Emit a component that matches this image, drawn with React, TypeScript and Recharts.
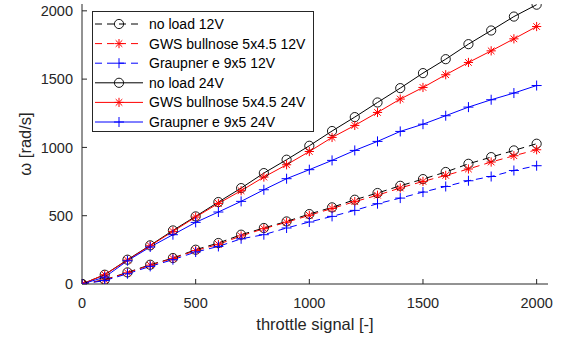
import { LineChart, Line, XAxis, YAxis, Legend } from "recharts";

const throttle = [
  0, 100, 200, 300, 400, 500, 600, 700, 800, 900, 1000, 1100, 1200, 1300,
  1400, 1500, 1600, 1700, 1800, 1900, 2000,
];
const noLoad12 = [
  0, 31, 85, 141, 190, 251, 300, 361, 410, 458, 512, 561, 617, 666, 719, 768,
  820, 880, 929, 978, 1027,
];
const gws12 = [
  0, 30, 82, 138, 187, 245, 290, 352, 405, 452, 503, 553, 603, 650, 703, 751,
  795, 842, 893, 939, 983,
];
const graupner12 = [
  0, 25, 75, 129, 178, 234, 275, 331, 361, 410, 454, 495, 539, 588, 629, 673,
  714, 756, 787, 831, 866,
];
const noLoad24 = [
  0, 68, 178, 283, 392, 495, 600, 702, 812, 910, 1012, 1120, 1222, 1329, 1434,
  1544, 1646, 1756, 1856, 1958, 2045,
];
const gws24 = [
  0, 68, 175, 280, 385, 490, 590, 683, 783, 873, 970, 1073, 1161, 1256, 1354,
  1439, 1532, 1622, 1707, 1795, 1885,
];
const graupner24 = [
  0, 50, 170, 271, 361, 451, 527, 605, 690, 771, 837, 905, 978, 1044, 1117,
  1170, 1232, 1295, 1349, 1398, 1453,
];
const xTicks = [0, 500, 1000, 1500, 2000];
const yTicks = [0, 500, 1000, 1500, 2000];

const FONT = "'Liberation Sans', Arial, sans-serif";
const AXIS = "#262626";
const TICK_FS = 14.5;
const LABEL_FS = 16.5;
const LEGEND_FS = 14;

type MarkerKind = "circle" | "star" | "plus";

const series = [
  { name: "no load 12V", values: noLoad12, color: "#000000", dashed: true, marker: "circle" as MarkerKind },
  { name: "GWS bullnose 5x4.5 12V", values: gws12, color: "#ff0000", dashed: true, marker: "star" as MarkerKind },
  { name: "Graupner e 9x5 12V", values: graupner12, color: "#0000ff", dashed: true, marker: "plus" as MarkerKind },
  { name: "no load 24V", values: noLoad24, color: "#000000", dashed: false, marker: "circle" as MarkerKind },
  { name: "GWS bullnose 5x4.5 24V", values: gws24, color: "#ff0000", dashed: false, marker: "star" as MarkerKind },
  { name: "Graupner e 9x5 24V", values: graupner24, color: "#0000ff", dashed: false, marker: "plus" as MarkerKind },
];

const Marker = ({ kind, cx, cy, color }: { kind: MarkerKind; cx: number; cy: number; color: string }) => {
  if (kind === "circle") {
    return <circle cx={cx} cy={cy} r={4.6} fill="none" stroke={color} strokeWidth={0.9} />;
  }
  if (kind === "plus") {
    return (
      <g stroke={color} strokeWidth={1}>
        <line x1={cx - 5} y1={cy} x2={cx + 5} y2={cy} />
        <line x1={cx} y1={cy - 5} x2={cx} y2={cy + 5} />
      </g>
    );
  }
  const d = 3.3;
  return (
    <g stroke={color} strokeWidth={1}>
      <line x1={cx - 4.6} y1={cy} x2={cx + 4.6} y2={cy} />
      <line x1={cx} y1={cy - 4.6} x2={cx} y2={cy + 4.6} />
      <line x1={cx - d} y1={cy - d} x2={cx + d} y2={cy + d} />
      <line x1={cx - d} y1={cy + d} x2={cx + d} y2={cy - d} />
    </g>
  );
};

const LegendBox = () => (
  <svg width={223} height={122} style={{ display: "block" }}>
    <rect x={0.5} y={0.5} width={221} height={120} fill="#fff" stroke={AXIS} strokeWidth={1} />
    {series.map((s, i) => {
      const y = 13 + i * 19.6;
      return (
        <g key={s.name}>
          <line
            x1={3}
            y1={y}
            x2={51}
            y2={y}
            stroke={s.color}
            strokeWidth={1}
            strokeDasharray={s.dashed ? "7 5" : undefined}
          />
          <Marker kind={s.marker} cx={27} cy={y} color={s.color} />
          <text x={57} y={y + 5} fontSize={LEGEND_FS} fontFamily={FONT} fill="#000">
            {s.name}
          </text>
        </g>
      );
    })}
  </svg>
);

const YLabel = (props: any) => {
  const vb = props.viewBox || {};
  const cx = vb.x + 25;
  const cy = vb.y + vb.height / 2;
  return (
    <text
      x={cx}
      y={cy}
      transform={`rotate(-90, ${cx}, ${cy})`}
      textAnchor="middle"
      dominantBaseline="central"
      fontSize={LABEL_FS}
      fontFamily={FONT}
      fill={AXIS}
    >
      ω [rad/s]
    </text>
  );
};

const tickStyle = { fill: AXIS, fontSize: TICK_FS, fontFamily: FONT };

export default function App() {
  return (
    <div style={{ position: "absolute", left: 0, top: 0, background: "#fff" }}>
      <LineChart
        width={569}
        height={343}
        margin={{ top: 4, right: 21, left: 0, bottom: 0 }}
        style={{ fontFamily: FONT }}
      >
        <XAxis
          xAxisId="bottom"
          type="number"
          dataKey="x"
          domain={[0, 2050]}
          ticks={xTicks}
          allowDataOverflow
          height={59}
          stroke={AXIS}
          tickSize={-5}
          tickMargin={19}
          tick={tickStyle}
          label={{
            value: "throttle signal [-]",
            position: "insideBottom",
            offset: 13,
            fill: AXIS,
            fontSize: LABEL_FS,
            fontFamily: FONT,
          }}
        />
        <XAxis
          xAxisId="top"
          orientation="top"
          type="number"
          dataKey="x"
          domain={[0, 2050]}
          ticks={xTicks}
          allowDataOverflow
          height={0}
          stroke={AXIS}
          tickSize={-5}
          tick={false}
        />
        <YAxis
          yAxisId="left"
          type="number"
          domain={[0, 2050]}
          ticks={yTicks}
          allowDataOverflow
          width={82}
          stroke={AXIS}
          tickSize={-5}
          tickMargin={14}
          tick={tickStyle}
          label={<YLabel />}
        />
        <YAxis
          yAxisId="right"
          orientation="right"
          type="number"
          domain={[0, 2050]}
          ticks={yTicks}
          allowDataOverflow
          width={0}
          stroke={AXIS}
          tickSize={-5}
          tick={false}
        />
        <Legend
          layout="vertical"
          align="center"
          verticalAlign="middle"
          wrapperStyle={{ left: 92, top: 11, width: 223, height: 122 }}
          content={() => <LegendBox />}
        />
        {series.map((s) => (
          <Line
            key={s.name}
            xAxisId="bottom"
            yAxisId="left"
            data={throttle.map((x, i) => ({ x, y: s.values[i] }))}
            dataKey="y"
            name={s.name}
            stroke={s.color}
            strokeWidth={1}
            strokeDasharray={s.dashed ? "7 5" : undefined}
            isAnimationActive={false}
            activeDot={false}
            dot={(p: any) => (
              <Marker key={`${s.name}-${p.index}`} kind={s.marker} cx={p.cx} cy={p.cy} color={s.color} />
            )}
          />
        ))}
      </LineChart>
    </div>
  );
}
